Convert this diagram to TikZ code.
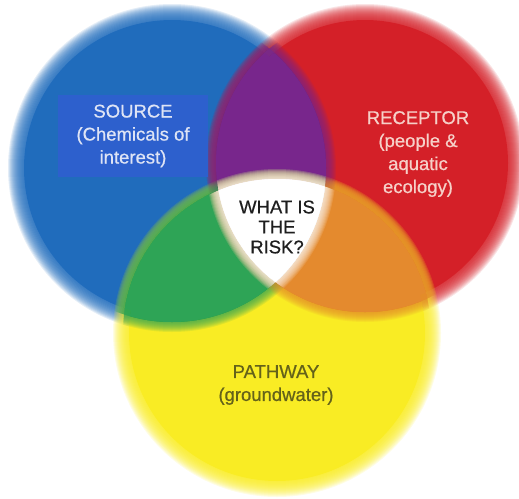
\documentclass[tikz,border=0pt]{standalone}
\usepackage{fontspec}
\setmainfont{Liberation Sans}[FakeBold=0.6]
\usepackage{tikz}
\definecolor{srcblue}{RGB}{32,108,188}
\definecolor{boxblue}{RGB}{45,96,205}
\definecolor{recred}{RGB}{212,32,40}
\definecolor{pathyellow}{RGB}{249,236,36}
\definecolor{mixpurple}{RGB}{120,38,140}
\definecolor{mixgreen}{RGB}{46,164,86}
\definecolor{mixorange}{RGB}{228,138,46}
\definecolor{srctext}{RGB}{222,228,245}
\definecolor{rectext}{RGB}{246,208,200}
\definecolor{pathtext}{RGB}{100,98,26}
\definecolor{risktext}{RGB}{30,30,30}
% filled disc with a soft rim: solid core plus thin see-through rings
\newcommand{\softdisc}[3]{%
    \fill [#1] (#2) circle ({#3-12});
    \foreach \d in {-11,...,4} \fill [#1, opacity=0.12] (#2) circle ({#3+\d});
}
\tikzstyle{setname} = [align=center, font=\fontsize{18.5}{23}\selectfont]
\tikzstyle{srcbox} = [rectangle, fill=boxblue, text=srctext, align=center,
    minimum width=150pt, minimum height=82pt, font=\fontsize{18.5}{23}\selectfont]

\begin{document}
\begin{tikzpicture}[x=1pt, y=-1pt]
    \useasboundingbox (0,0) rectangle (519,498);
    \coordinate (source) at (172,168);
    \coordinate (receptor) at (365,163);
    \coordinate (pathway) at (277,333);
    % Circles
    \softdisc{srcblue}{source}{160}
    \softdisc{recred}{receptor}{155}
    \softdisc{pathyellow}{pathway}{160}
    % Overlaps (each side softened by the other disc)
    \begin{scope} \clip (source) circle (154); \softdisc{mixpurple}{receptor}{155} \end{scope}
    \begin{scope} \clip (receptor) circle (149); \softdisc{mixpurple}{source}{160} \end{scope}
    \begin{scope} \clip (source) circle (154); \softdisc{mixgreen}{pathway}{160} \end{scope}
    \begin{scope} \clip (pathway) circle (154); \softdisc{mixgreen}{source}{160} \end{scope}
    \begin{scope} \clip (receptor) circle (149); \softdisc{mixorange}{pathway}{160} \end{scope}
    \begin{scope} \clip (pathway) circle (154); \softdisc{mixorange}{receptor}{155} \end{scope}
    % Centre
    \begin{scope} \clip (source) circle (154); \clip (receptor) circle (149);
        \softdisc{white}{pathway}{160} \end{scope}
    \begin{scope} \clip (source) circle (154); \clip (pathway) circle (154);
        \softdisc{white}{receptor}{155} \end{scope}
    \begin{scope} \clip (receptor) circle (149); \clip (pathway) circle (154);
        \softdisc{white}{source}{160} \end{scope}
    % Nodes
    \node [srcbox] (src) at (133,136) {SOURCE\\(Chemicals of\\interest)};
    \node [setname, text=rectext] (rec) at (418,154) {RECEPTOR\\(people \&\\aquatic\\ecology)};
    \node [setname, text=pathtext] (path) at (276,385) {PATHWAY\\(groundwater)};
    \node [setname, text=risktext, font=\fontsize{18.5}{20}\selectfont] (risk) at (277,227) {WHAT IS\\THE\\RISK?};
\end{tikzpicture}
\end{document}
